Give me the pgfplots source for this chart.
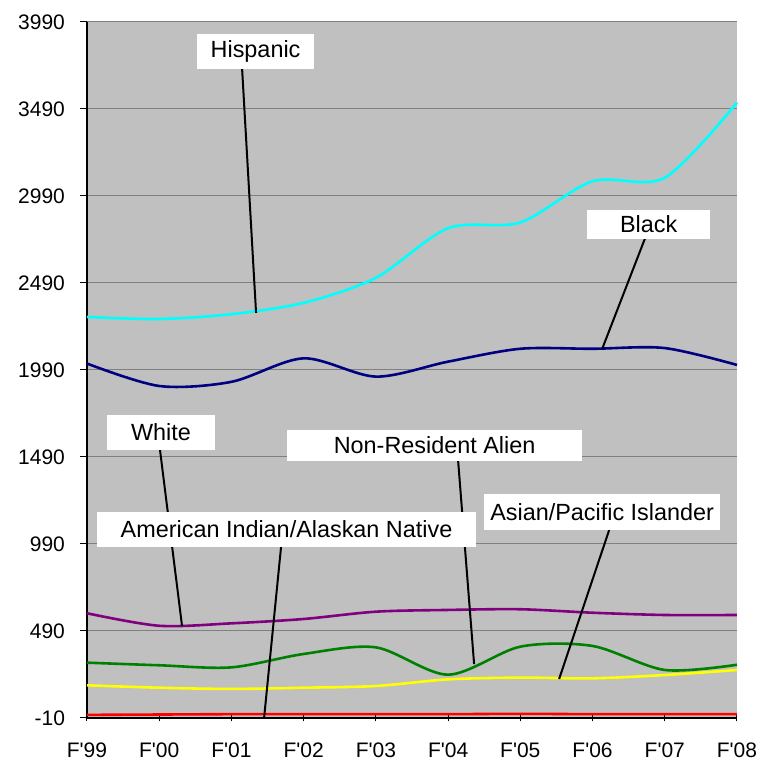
\documentclass[border=0pt]{standalone}
\usepackage{fontspec}
\setmainfont{Liberation Sans}
\usepackage{pgfplots}
\pgfplotsset{compat=1.18}

\definecolor{plotbg}{HTML}{C0C0C0}
\definecolor{gridgray}{HTML}{808080}
\definecolor{hisp}{HTML}{00FFFF}
\definecolor{blk}{HTML}{000080}
\definecolor{wht}{HTML}{800080}
\definecolor{nra}{HTML}{008000}
\definecolor{asn}{HTML}{FFFF00}
\definecolor{ami}{HTML}{FF0000}

% enrolment by group, F'99 .. F'08
\pgfplotstableread{
x hisp black white nra asian amind
0 2295 2027 592 308 178 8
1 2283 1898 520 293 164 10
2 2311 1922 534 281 157 12
3 2376 2057 559 358 164 12
4 2520 1952 601 396 174 12
5 2805 2038 611 239 212 12
6 2838 2112 615 400 222 14
7 3075 2112 595 404 218 12
8 3095 2116 582 266 237 12
9 3527 2019 582 296 266 12
}\enroll

\begin{document}
\begin{tikzpicture}
\begin{axis}[
    name=ax,
    scale only axis,
    width=325pt, height=348pt,
    xmin=0, xmax=9,
    ymin=-10, ymax=3990,
    axis x line=bottom, axis y line=left,
    axis line style={-, black, line width=0.6pt},
    axis background/.style={fill=plotbg},
    xtick={0,...,9},
    xticklabels={F\textquotesingle99,F\textquotesingle00,F\textquotesingle01,F\textquotesingle02,F\textquotesingle03,F\textquotesingle04,F\textquotesingle05,F\textquotesingle06,F\textquotesingle07,F\textquotesingle08},
    ytick={-10,490,990,1490,1990,2490,2990,3490,3990},
    ymajorgrids,
    grid style={gridgray, line width=0.5pt},
    tick style={black, line width=0.5pt},
    major tick length=3.5pt,
    xtick align=center,
    ytick align=outside,
    tick label style={font=\fontsize{10.5}{12.5}\selectfont},
    xticklabel style={yshift=-7pt},
    yticklabel style={xshift=-4pt},
    /pgf/number format/1000 sep={},
    /pgf/number format/assume math mode=true,
    clip=false,
]
\addplot[hisp, line width=1.3pt, smooth] table[x=x, y=hisp] {\enroll};
\addplot[blk, line width=1.3pt, smooth] table[x=x, y=black] {\enroll};
\addplot[wht, line width=1.3pt, smooth] table[x=x, y=white] {\enroll};
\addplot[nra, line width=1.3pt, smooth] table[x=x, y=nra] {\enroll};
\addplot[asn, line width=1.3pt, smooth] table[x=x, y=asian] {\enroll};
\addplot[ami, line width=1.3pt, smooth] table[x=x, y=amind] {\enroll};

% callout leaders
\draw[black, line width=1pt] (2.147,3726) -- (2.341,2318);
\draw[black, line width=1pt] (7.729,2749) -- (7.133,2111);
\draw[black, line width=1pt] (1.011,1530) -- (1.316,519);
\draw[black, line width=1pt] (5.139,1467) -- (5.360,300);
\draw[black, line width=1pt] (7.230,1070) -- (6.537,214);
\draw[black, line width=1pt] (2.687,973) -- (2.452,-10);

% callout boxes
\tikzset{lbl/.style={fill=white, inner sep=0pt, font=\fontsize{11.7}{14}\selectfont}}
\node[lbl, minimum width=58.5pt, minimum height=17.5pt] at (2.334,3820) {Hispanic};
\node[lbl, minimum width=61.5pt, minimum height=14.5pt] at (7.777,2826) {Black};
\node[lbl, minimum width=54pt, minimum height=17.5pt] at (1.025,1631) {White};
\node[lbl, minimum width=147.5pt, minimum height=15.5pt] at (4.813,1556) {Non-Resident Alien};
\node[lbl, minimum width=118pt, minimum height=18pt] at (7.133,1174) {Asian/Pacific Islander};
\node[lbl, minimum width=189.5pt, minimum height=17.5pt] at (2.763,1073) {American Indian/Alaskan Native};
\end{axis}
\pgfresetboundingbox
\path[use as bounding box] (ax.south west) ++(-43.5pt,-23pt) rectangle ++(381.5pt,382pt);
\end{tikzpicture}
\end{document}
